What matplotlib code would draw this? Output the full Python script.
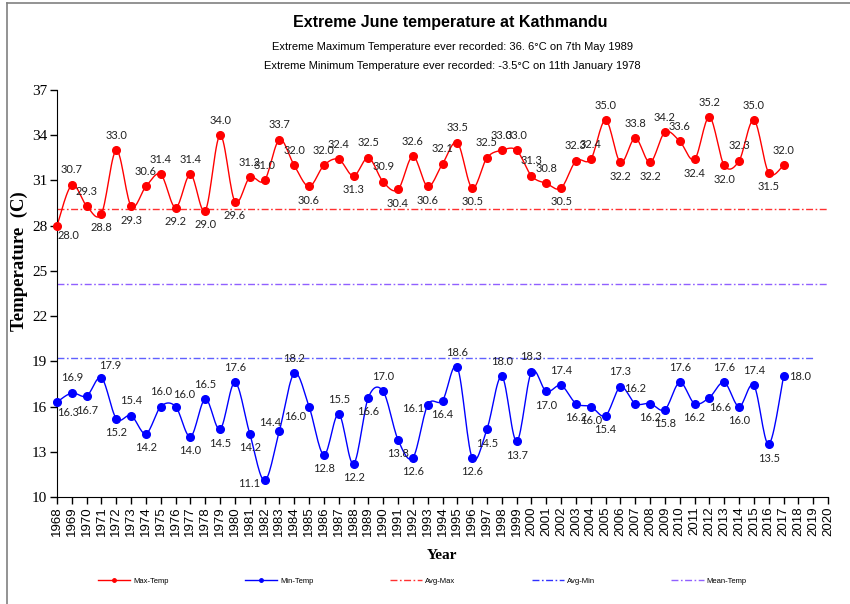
import numpy as np
import matplotlib.pyplot as plt
from matplotlib.lines import Line2D

# ============================================================
# DATA
# ============================================================
years = np.arange(1968, 2018)
tick_years = np.arange(1968, 2021)

max_temp = [28.0, 30.7, 29.3, 28.8, 33.0, 29.3, 30.6, 31.4, 29.2, 31.4,
            29.0, 34.0, 29.6, 31.2, 31.0, 33.7, 32.0, 30.6, 32.0, 32.4,
            31.3, 32.5, 30.9, 30.4, 32.6, 30.6, 32.1, 33.5, 30.5, 32.5,
            33.0, 33.0, 31.3, 30.8, 30.5, 32.3, 32.4, 35.0, 32.2, 33.8,
            32.2, 34.2, 33.6, 32.4, 35.2, 32.0, 32.3, 35.0, 31.5, 32.0]

min_temp = [16.3, 16.9, 16.7, 17.9, 15.2, 15.4, 14.2, 16.0, 16.0, 14.0,
            16.5, 14.5, 17.6, 14.2, 11.1, 14.4, 18.2, 16.0, 12.8, 15.5,
            12.2, 16.6, 17.0, 13.8, 12.6, 16.1, 16.4, 18.6, 12.6, 14.5,
            18.0, 13.7, 18.3, 17.0, 17.4, 16.2, 16.0, 15.4, 17.3, 16.2,
            16.2, 15.8, 17.6, 16.2, 16.6, 17.6, 16.0, 17.4, 13.5, 18.0]

avg_max = 29.1
avg_min = 19.2
mean_temp = 24.1

# label placement per point (a=above, b=below, l/r=left/right)
max_pos = ("br a a b a b a a b a "
           "b a b a a a a b a a "
           "b a a b a b a a b a "
           "a a a a b a a a b a "
           "b a a b a b a a b a").split()
min_pos = ("br a b ar b a b a ar b "
           "a b a b l al a bl b a "
           "b b a b b l b a b b "
           "a b a b a b b b a a "
           "b b a b br a b a b r").split()

OFFSETS = {"a": (0, 15), "b": (0, -14), "br": (11, -10), "ar": (9, 12),
           "al": (-9, 8), "bl": (-14, -10), "l": (-15, -3), "r": (17, 0)}


def smooth(x, y, n=16):
    # Excel-like smoothed line: cubic bezier through the points
    x = np.asarray(x, float)
    y = np.asarray(y, float)
    pts = np.column_stack([x, y])
    out = []
    t = np.linspace(0, 1, n)[:, None]
    for i in range(len(pts) - 1):
        p0 = pts[max(i - 1, 0)]
        p1 = pts[i]
        p2 = pts[i + 1]
        p3 = pts[min(i + 2, len(pts) - 1)]
        c1 = p1 + (p2 - p0) / 6
        c2 = p2 - (p3 - p1) / 6
        seg = ((1 - t) ** 3) * p1 + 3 * ((1 - t) ** 2) * t * c1 \
            + 3 * (1 - t) * t ** 2 * c2 + t ** 3 * p2
        out.append(seg if i == 0 else seg[1:])
    s = np.vstack(out)
    return s[:, 0], s[:, 1]


# ============================================================
# PLOT
# ============================================================
fig = plt.figure(figsize=(8.5, 6.04), dpi=100)
ax = fig.add_axes([57 / 850, 1 - 497 / 604, 771 / 850, 407 / 604])

RED = "#FF0000"
BLUE = "#0000FF"
dash = (0, (5, 1.8, 1.2, 1.8))

ax.plot([1968, 2020], [avg_max] * 2, color="#FF3030", lw=1.0, ls=dash)
ax.plot([1968, 2020], [mean_temp] * 2, color="#9060FF", lw=1.0, ls=dash)
ax.plot([1968, 2019], [avg_min] * 2, color="#6060FF", lw=1.0, ls=dash)

for vals, col, pos in [(max_temp, RED, max_pos), (min_temp, BLUE, min_pos)]:
    sx, sy = smooth(years, vals)
    ax.plot(sx, sy, color=col, lw=1.0, clip_on=False)
    ax.plot(years, vals, "o", color=col, ms=5.5, clip_on=False, zorder=3)
    for xv, yv, p in zip(years, vals, pos):
        ax.annotate(f"{yv:.1f}", (xv, yv), xytext=OFFSETS[p],
                    textcoords="offset pixels", ha="center", va="center",
                    fontsize=8, family="Lato", color="#222222")

ax.set_xlim(1968, 2020)
ax.set_ylim(10, 37)
ax.set_yticks(np.arange(10, 38, 3))
ax.set_xticks(tick_years)
ax.set_xticklabels([str(y) for y in tick_years], rotation=90,
                   fontsize=9.5, family="Liberation Sans")
for lab in ax.get_yticklabels():
    lab.set_family("Liberation Serif")
    lab.set_fontsize(11)
ax.tick_params(direction="out", length=5, width=1, pad=2)
ax.spines["top"].set_visible(False)
ax.spines["right"].set_visible(False)

ax.set_ylabel("Temperature  (C)", family="Liberation Serif",
              fontweight="bold", fontsize=13.5, labelpad=3)
ax.yaxis.label.set_y(0.58)
ax.set_xlabel("Year", family="Liberation Serif", fontweight="bold",
              fontsize=11, labelpad=9)

fig.text(0.53, 1 - 22 / 604, "Extreme June temperature at Kathmandu",
         ha="center", va="center", fontsize=11.5, fontweight="bold",
         family="Liberation Sans")
fig.text(0.532, 1 - 47 / 604,
         "Extreme Maximum Temperature ever recorded: 36. 6°C on 7th May 1989",
         ha="center", va="center", fontsize=8, family="Liberation Sans")
fig.text(0.532, 1 - 66 / 604,
         "Extreme Minimum Temperature ever recorded: -3.5°C on 11th January 1978",
         ha="center", va="center", fontsize=8, family="Liberation Sans")

handles = [
    Line2D([], [], color=RED, lw=1, marker="o", ms=2.5),
    Line2D([], [], color=BLUE, lw=1, marker="o", ms=2.5),
    Line2D([], [], color="#FF3030", lw=1, ls=dash),
    Line2D([], [], color="#3030FF", lw=1, ls=dash),
    Line2D([], [], color="#9060FF", lw=1, ls=dash),
]
fig.legend(handles, ["Max-Temp", "Min-Temp", "Avg-Max", "Avg-Min", "Mean-Temp"],
           loc="center", bbox_to_anchor=(0.497, 1 - 581 / 604), ncol=5,
           frameon=False, prop={"family": "Liberation Sans", "size": 5.5},
           handlelength=4.2, handletextpad=0.4, columnspacing=10)

# chart frame (left and top edges visible in the reference)
fig.add_artist(Line2D([7 / 850, 7 / 850], [0, 1 - 3 / 604], color="#808080", lw=1.2))
fig.add_artist(Line2D([7 / 850, 1], [1 - 3 / 604, 1 - 3 / 604], color="#808080", lw=1.2))

fig.savefig("out.png", dpi=100)
